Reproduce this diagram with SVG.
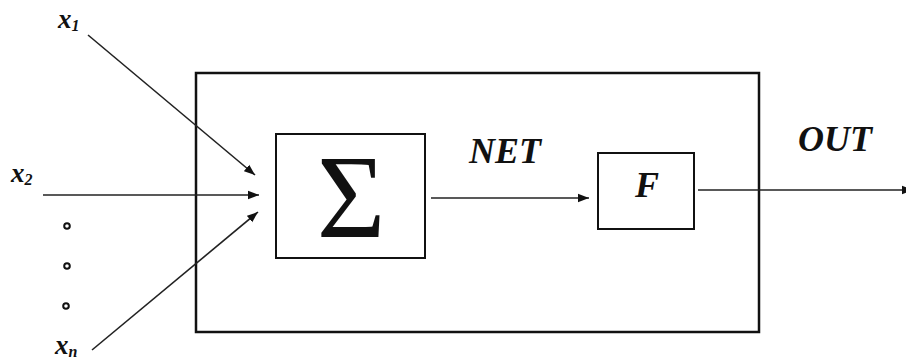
<svg xmlns="http://www.w3.org/2000/svg" width="906" height="361" viewBox="0 0 906 361">
<defs>
<style>
.box{fill:none;stroke:#111;stroke-width:2}
.outer{fill:none;stroke:#111;stroke-width:2.5}
.ln{fill:none;stroke:#222;stroke-width:1.6}
.dot{fill:none;stroke:#111;stroke-width:2}
.t{font-family:"Liberation Serif","Times New Roman",serif;font-weight:bold;font-style:italic;fill:#111}
</style>
<marker id="ah" markerWidth="12" markerHeight="10" refX="11" refY="5" orient="auto" markerUnits="userSpaceOnUse">
<path d="M0,0.8 L11,5 L0,9.2 Z" fill="#111"/>
</marker>
</defs>
<rect width="906" height="361" fill="#fff"/>
<g id="outer-box"><rect class="outer" x="196" y="73" width="563" height="259"/></g>
<g id="sum">
<rect class="box" x="276" y="134" width="149" height="124"/>
<text x="351" y="237" text-anchor="middle" font-family="'Liberation Serif', serif" font-size="118" fill="#111">Σ</text>
</g>
<g id="f-node">
<rect class="box" x="598" y="153" width="96" height="76"/>
<text class="t" x="647" y="197" text-anchor="middle" font-size="36">F</text>
</g>
<g id="inputs">
<text class="t" x="58" y="28" font-size="27">x<tspan font-size="16" dy="3">1</tspan></text>
<text class="t" x="11" y="182" font-size="27">x<tspan font-size="16" dy="3">2</tspan></text>
<text class="t" x="55" y="354" font-size="27">x<tspan font-size="16" dy="3">n</tspan></text>
</g>
<g id="dots">
<circle class="dot" cx="67" cy="226" r="2.8"/>
<circle class="dot" cx="67" cy="266" r="2.8"/>
<circle class="dot" cx="66" cy="306" r="2.8"/>
</g>
<g id="labels">
<text class="t" x="505" y="163" text-anchor="middle" font-size="36">NET</text>
<text class="t" x="835" y="151" text-anchor="middle" font-size="36">OUT</text>
</g>
<g id="connectors">
<line class="ln" x1="88" y1="35" x2="255" y2="175" marker-end="url(#ah)"/>
<line class="ln" x1="43" y1="195" x2="259" y2="195" marker-end="url(#ah)"/>
<line class="ln" x1="92" y1="350" x2="258" y2="212" marker-end="url(#ah)"/>
<line class="ln" x1="431" y1="198" x2="589" y2="198" marker-end="url(#ah)"/>
<line class="ln" x1="698" y1="190" x2="913" y2="190" marker-end="url(#ah)"/>
</g>
</svg>
